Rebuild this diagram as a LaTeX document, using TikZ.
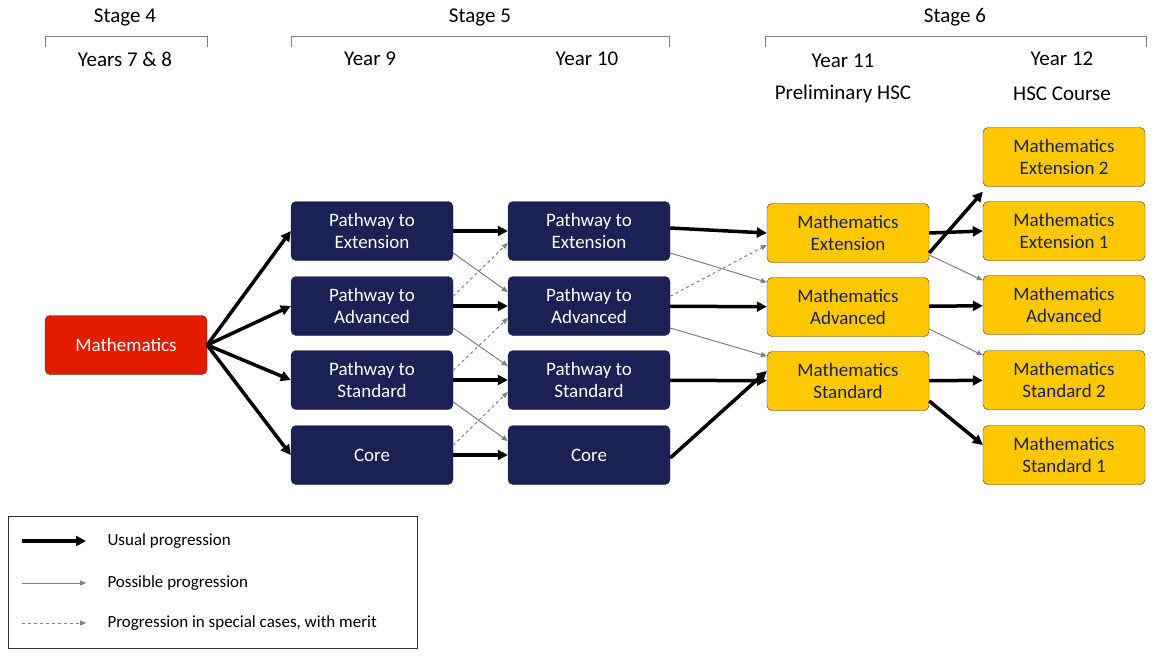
\documentclass[tikz,border=0pt]{standalone}
\usepackage{fontspec}
\setmainfont{Carlito}
\usetikzlibrary{arrows.meta}
\definecolor{navy}{HTML}{1B2155}
\definecolor{gold}{HTML}{FFC800}
\definecolor{redb}{HTML}{E31C00}
\begin{document}
\begin{tikzpicture}[x=1pt,y=-1pt,
  box/.style={rounded corners=5pt,minimum width=162pt,minimum height=59pt,align=center,font=\fontsize{19}{22}\selectfont,inner sep=1pt},
  dk/.style={box,fill=navy,draw=navy,text=white},
  yl/.style={box,fill=gold,draw=black!80,text=navy},
  hd/.style={font=\fontsize{21}{24}\selectfont},
  thick arr/.style={line width=3.5pt,-{Triangle[length=10pt,width=10pt]}},
  thin arr/.style={gray,line width=1pt,-{Triangle[length=6pt,width=5pt]}},
  dash arr/.style={thin arr,dashed}]
\useasboundingbox (0,0) rectangle (1155,656);
\node[hd] (s4) at (125,17) {Stage 4};
\node[hd] (s5) at (480,17) {Stage 5};
\node[hd] (s6) at (955,17) {Stage 6};
\draw[gray,line width=1pt] (45,47)--(45,36)--(207,36)--(207,47);
\draw[gray,line width=1pt] (291,47)--(291,36)--(669,36)--(669,47);
\draw[gray,line width=1pt] (765,47)--(765,36)--(1146,36)--(1146,47);
\node[hd] (y78) at (125,59) {Years 7 \& 8};
\node[hd] (y9) at (370,59) {Year 9};
\node[hd] (y10) at (587,59) {Year 10};
\node[hd] (y11) at (843,61) {Year 11};
\node[hd] (ph) at (843,94) {Preliminary HSC};
\node[hd] (y12) at (1062,59) {Year 12};
\node[hd] (hc) at (1062,94) {HSC Course};

\node[box,fill=redb,draw=black!80,text=white] (m) at (126,345) {Mathematics};
\foreach \n/\t/\y in {e/Pathway to\\Extension/231,a/Pathway to\\Advanced/306,s/Pathway to\\Standard/380,c/Core/455}{
  \node[dk] (p\n) at (372,\y) {\t};
  \node[dk] (q\n) at (589,\y) {\t};}
\node[yl] (re) at (848,233) {Mathematics\\Extension};
\node[yl] (ra) at (848,307) {Mathematics\\Advanced};
\node[yl] (rs) at (848,381) {Mathematics\\Standard};
\node[yl] (t2) at (1064,157) {Mathematics\\Extension 2};
\node[yl] (t1) at (1064,231) {Mathematics\\Extension 1};
\node[yl] (ta) at (1064,305) {Mathematics\\Advanced};
\node[yl] (ts2) at (1064,380) {Mathematics\\Standard 2};
\node[yl] (ts1) at (1064,455) {Mathematics\\Standard 1};

\foreach \n in {e,a,s,c}{\draw[thick arr] (m.east) -- (p\n.west); \draw[thick arr] (p\n) -- (q\n);}
\draw[thick arr] ([yshift=3]qe.east) -- (re.west);
\draw[thick arr] (qa) -- (ra);
\draw[thick arr] (qs) -- (rs);
\draw[thick arr] ([yshift=-3]qc.east) -- ([yshift=10]rs.west);
\draw[thick arr] ([yshift=-20]re.east) -- ([yshift=-5]t2.south west);
\draw[thick arr] (re.east) -- (t1.west);
\draw[thick arr] (ra) -- (ta);
\draw[thick arr] (rs) -- (ts2);
\draw[thick arr] ([yshift=-20]rs.east) -- ([yshift=10]ts1.west);

\draw[thin arr] ([yshift=-22]pe.east) -- ([yshift=14]qa.west);
\draw[thin arr] ([yshift=-22]pa.east) -- ([yshift=14]qs.west);
\draw[thin arr] ([yshift=-22]ps.east) -- ([yshift=14]qc.west);
\draw[thin arr] ([yshift=-22]qe.east) -- ([yshift=-5]ra.north west);
\draw[thin arr] ([yshift=-22]qa.east) -- ([yshift=-5]rs.north west);
\draw[thin arr] ([yshift=-22]re.east) -- ([yshift=-5]ta.north west);
\draw[thin arr] ([yshift=-22]ra.east) -- ([yshift=-5]ts2.north west);

\draw[dash arr] ([yshift=-20]pa.north east) -- ([yshift=-12]qe.west);
\draw[dash arr] ([yshift=-20]ps.north east) -- ([yshift=-12]qa.west);
\draw[dash arr] ([yshift=-20]pc.north east) -- ([yshift=-12]qs.west);
\draw[dash arr] ([yshift=-20]qa.north east) -- ([yshift=-12]re.west);

\draw[black!80] (8,516) rectangle (417,648);
\coordinate (l1a) at (22,541); \coordinate (l1b) at (86,541);
\coordinate (l2a) at (22,583); \coordinate (l2b) at (86,583);
\coordinate (l3a) at (22,623); \coordinate (l3b) at (86,623);
\draw[thick arr] (l1a) -- (l1b);
\draw[thin arr] (l2a) -- (l2b);
\draw[dash arr] (l3a) -- (l3b);
\node[anchor=west,font=\fontsize{17}{20}\selectfont] (t1l) at (104,541) {Usual progression};
\node[anchor=west,font=\fontsize{17}{20}\selectfont] (t2l) at (104,583) {Possible progression};
\node[anchor=west,font=\fontsize{17}{20}\selectfont] (t3l) at (104,623) {Progression in special cases, with merit};
\end{tikzpicture}
\end{document}
